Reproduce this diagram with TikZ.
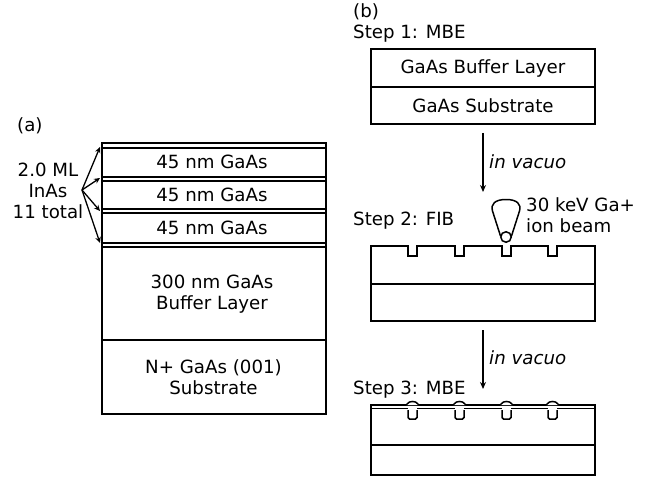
\documentclass[tikz,border=0pt]{standalone}
\usepackage{fontspec}
\setmainfont{DejaVu Sans}
\usetikzlibrary{arrows.meta}
\tikzset{
  lay/.style={draw=black,line width=1.5pt},
  txt/.style={font=\fontsize{18.2bp}{21bp}\selectfont,inner sep=0pt,align=center,text=black},
  lft/.style={txt,anchor=west},
  arr/.style={line width=1.3pt,-{Stealth[length=7pt,width=6pt]}},
  thinarr/.style={line width=1.3pt,-{Stealth[length=6pt,width=5.5pt]}}
}
\begin{document}
\begin{tikzpicture}[x=1bp,y=-1bp]
\useasboundingbox (0,0) rectangle (657,477);
% stack (a)
\draw[lay] (102,143) rectangle (326,414);
\foreach \y in {148,177,181,209,213,243,247,340}{\draw[lay] (102,\y) -- (326,\y);}
\node[txt] (g1) at (212,162) {45 nm GaAs};
\node[txt] (g2) at (212,195) {45 nm GaAs};
\node[txt] (g3) at (212,228) {45 nm GaAs};
\node[txt] (buf) at (212,294.5) {300 nm GaAs\\Buffer Layer};
\node[txt] (sub) at (213.5,377) {N+ GaAs (001)\\Substrate};
\node[lft] (a) at (17,126) {(a)};
\node[txt] (ml) at (48,191) {2.0 ML\\InAs\\11 total};
\coordinate (o) at (82,190);
\coordinate (t1) at (100,147);
\coordinate (t2) at (100,178);
\coordinate (t3) at (100,211);
\coordinate (t4) at (100,243);
\foreach \t in {t1,t2,t3,t4}{\draw[thinarr] (o) -- (\t);}
% (b)
\node[lft] (b) at (353,12) {(b)};
\node[lft] (s1) at (353,34) {Step 1: MBE};
\draw[lay] (371,49) rectangle (595,124);
\draw[lay] (371,87) -- (595,87);
\node[txt] (bl) at (483,68) {GaAs Buffer Layer};
\node[txt] (ss) at (483,106) {GaAs Substrate};
\coordinate (a1) at (483,133);
\coordinate (a2) at (483,192);
\draw[arr] (a1) -- (a2);
\node[lft] (iv1) at (489,162) {\itshape in vacuo};
% step 2
\node[lft] (s2) at (353,221) {Step 2: FIB};
\node[lft,align=left] (beam) at (526,215) {30 keV Ga+\\ion beam};
\draw[lay] (371,321) -- (371,246) -- (408,246) -- (408,256) -- (417,256) -- (417,246)
  -- (455,246) -- (455,256) -- (464,256) -- (464,246)
  -- (502,246) -- (502,256) -- (511,256) -- (511,246)
  -- (548,246) -- (548,256) -- (557,256) -- (557,246)
  -- (595,246) -- (595,321) -- cycle;
\draw[lay] (371,284) -- (595,284);
\node[draw=black,line width=1.5pt,circle,minimum size=10.5bp,inner sep=0pt] (spot) at (506,237) {};
\draw[lay,line join=round] (500.5,236) -- (492.5,211) .. controls (490.5,204) and (495,199.5) .. (506,199.5)
  .. controls (517,199.5) and (521.5,204) .. (519.5,211) -- (511.5,236);
\coordinate (a3) at (483,330);
\coordinate (a4) at (483,389);
\draw[arr] (a3) -- (a4);
\node[lft] (iv2) at (489,358) {\itshape in vacuo};
% step 3
\node[lft] (s3) at (353,390) {Step 3: MBE};
\draw[lay] (371,475) -- (371,405) -- (595,405) -- (595,475) -- cycle;
\draw[lay] (371,445) -- (595,445);
\fill[white] (372,406) rectangle (594,408);
\foreach \x in {408,455,502,548}{
  \draw[lay,fill=white,rounded corners=1.5pt] (\x,410) -- (\x,419) -- (\x+9,419) -- (\x+9,410);
  \draw[lay,fill=white] (\x-2,405) .. controls (\x,405) and (\x-1,401.5) .. (\x+4.5,401.5)
    .. controls (\x+10,401.5) and (\x+9,405) .. (\x+11,405);
}
\draw[lay] (371,408.5) -- (408,408.5) (417,408.5) -- (455,408.5) (464,408.5) -- (502,408.5) (511,408.5) -- (548,408.5) (557,408.5) -- (595,408.5);
\end{tikzpicture}
\end{document}
